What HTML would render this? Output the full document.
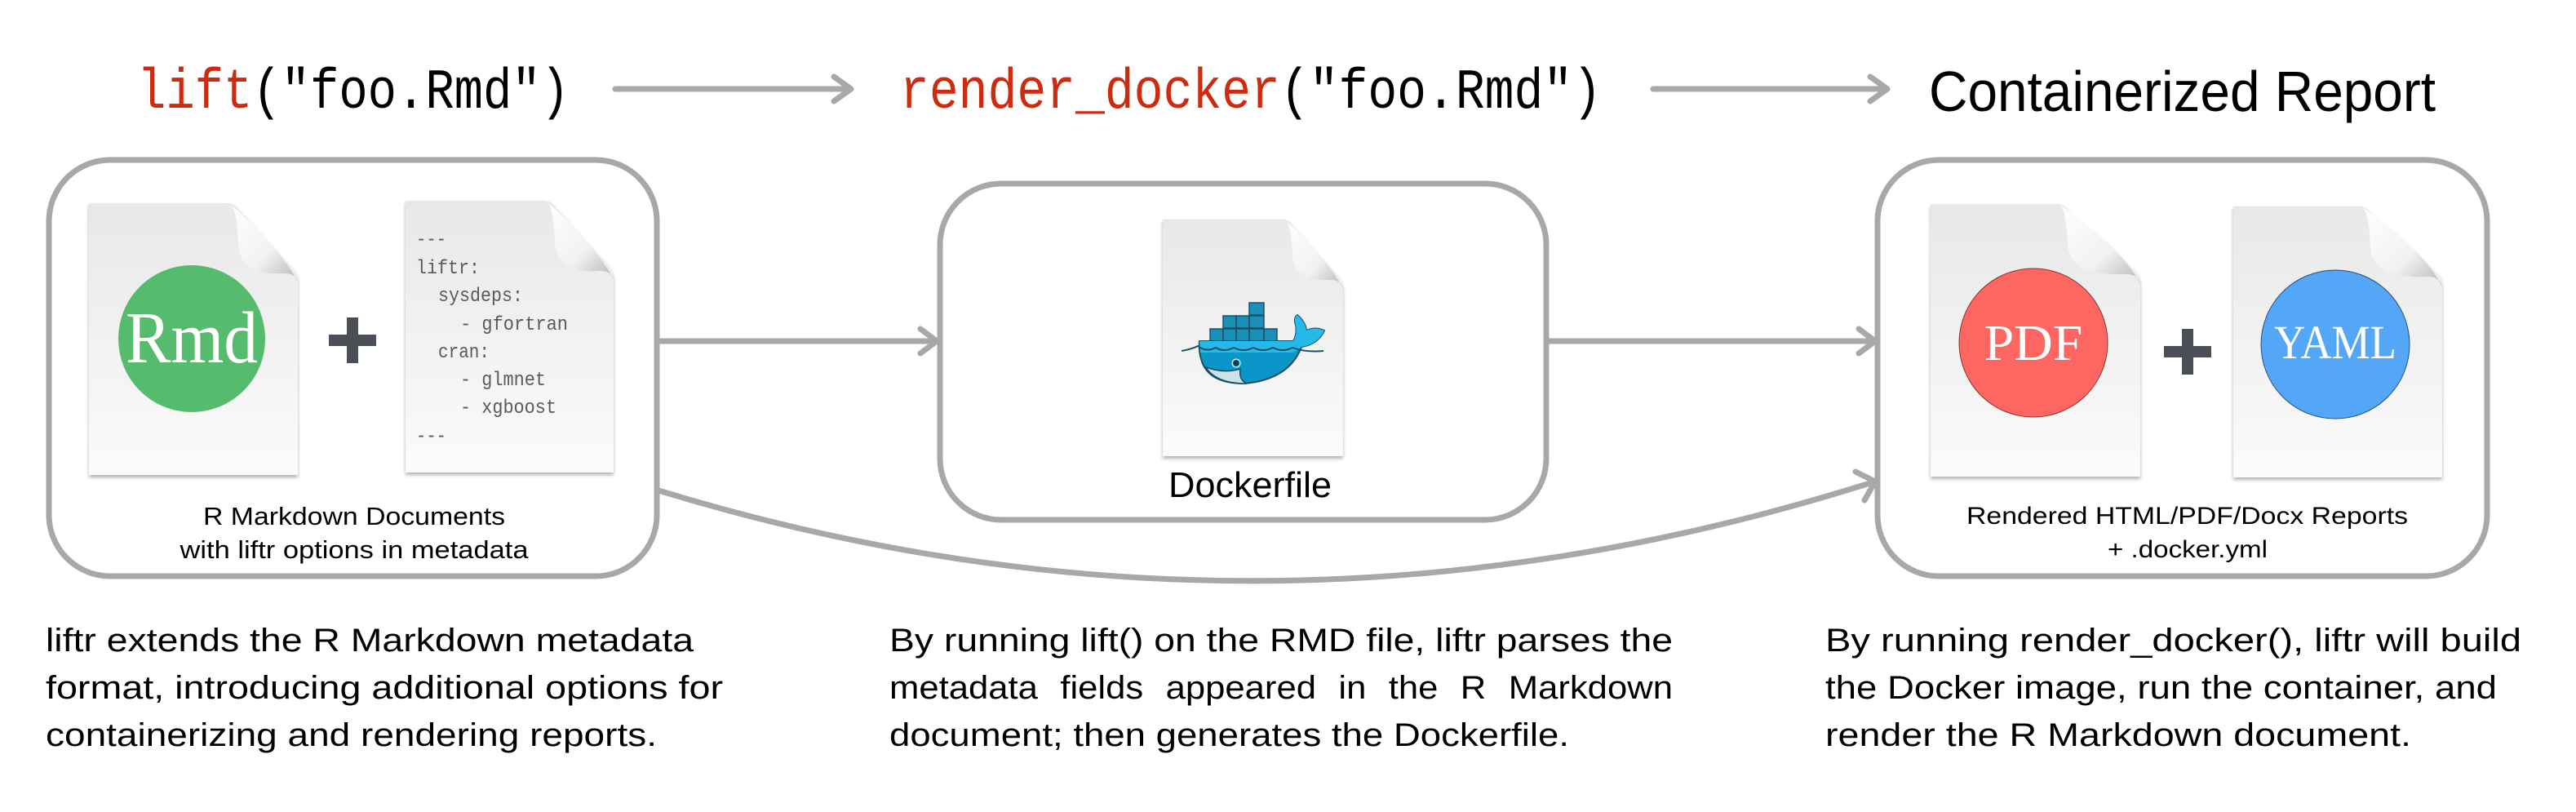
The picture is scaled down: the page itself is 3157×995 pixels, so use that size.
<!DOCTYPE html>
<html><head><meta charset="utf-8"><style>
html,body{margin:0;padding:0;background:#fff;}
svg{display:block;}
</style></head><body>
<svg width="3157" height="995" viewBox="0 0 3157 995" xmlns="http://www.w3.org/2000/svg">
<defs>
<linearGradient id="pg" x1="0" y1="0" x2="0" y2="1">
<stop offset="0" stop-color="#e8e8e8"/><stop offset="1" stop-color="#fbfbfb"/>
</linearGradient>
<linearGradient id="fold" x1="0" y1="0" x2="1" y2="1">
<stop offset="0" stop-color="#ffffff"/><stop offset="0.6" stop-color="#f2f2f2"/><stop offset="1" stop-color="#b5b5b5"/>
</linearGradient>
<filter id="sh" x="-10%" y="-10%" width="120%" height="120%">
<feDropShadow dx="0" dy="3" stdDeviation="2" flood-color="#000" flood-opacity="0.3"/>
</filter>
</defs>

<g font-family="Liberation Mono, monospace" font-size="70">
<text x="168" y="132" textLength="530" lengthAdjust="spacingAndGlyphs"><tspan fill="#cc2b10">lift</tspan><tspan fill="#000">("foo.Rmd")</tspan></text>
<text x="1103" y="132" textLength="860" lengthAdjust="spacingAndGlyphs"><tspan fill="#cc2b10">render_docker</tspan><tspan fill="#000">("foo.Rmd")</tspan></text>
</g>
<text x="2364" y="136" font-family="Liberation Sans, sans-serif" font-size="70" textLength="621" lengthAdjust="spacingAndGlyphs" fill="#000">Containerized Report</text>

<g stroke="#a6a9a8" stroke-width="7" fill="none" stroke-linecap="round" stroke-linejoin="round">
<line x1="754" y1="109" x2="1041" y2="109"/><polyline points="1022,94 1043,109 1022,124"/>
<line x1="2026" y1="109" x2="2311" y2="109"/><polyline points="2292,94 2313,109 2292,124"/>
<rect x="60" y="196" width="745" height="510" rx="75"/>
<rect x="1152" y="225" width="743" height="412" rx="75"/>
<rect x="2301" y="196" width="747" height="510" rx="75"/>
<line x1="805" y1="418" x2="1146" y2="418"/><polyline points="1128,403 1148,418 1128,433"/>
<line x1="1895" y1="418" x2="2296" y2="418"/><polyline points="2278,403 2298,418 2278,433"/>
<path d="M807,601 Q1550,828 2298,590"/><polyline points="2274,578 2298,590 2285,613"/>
</g>

<g>
<path filter="url(#sh)" d="M109,249 H279 Q287,249 292,256 L360,330 Q365,336 365,345 V582 H109 Z" fill="url(#pg)"/>
<path d="M281,249 Q290,252 292,300 Q294,338 345,335 Q362,334 365,345 Q340,300 281,249 Z" fill="url(#fold)"/>
<circle cx="235" cy="415" r="90" fill="#56bb6c"/>
<text x="235" y="444" text-anchor="middle" font-family="Liberation Serif, serif" font-size="90" fill="#fff" textLength="162" lengthAdjust="spacingAndGlyphs">Rmd</text>
<rect x="403" y="410" width="58" height="14" fill="#4a4e57"/><rect x="425" y="389" width="14" height="56" fill="#4a4e57"/>

<path filter="url(#sh)" d="M497,246 H667 Q675,246 680,253 L747,327 Q752,333 752,342 V579 H497 Z" fill="url(#pg)"/>
<path d="M669,246 Q678,249 680,297 Q682,335 732,332 Q749,331 752,342 Q727,297 669,246 Z" fill="url(#fold)"/>
<g font-family="Liberation Mono, monospace" font-size="24" fill="#5a5a5a">
<text x="510" y="300" textLength="37" lengthAdjust="spacingAndGlyphs">---</text>
<text x="510" y="335" textLength="78" lengthAdjust="spacingAndGlyphs">liftr:</text>
<text x="537" y="369" textLength="104" lengthAdjust="spacingAndGlyphs">sysdeps:</text>
<text x="564" y="404" textLength="132" lengthAdjust="spacingAndGlyphs">- gfortran</text>
<text x="537" y="438" textLength="63" lengthAdjust="spacingAndGlyphs">cran:</text>
<text x="564" y="472" textLength="105" lengthAdjust="spacingAndGlyphs">- glmnet</text>
<text x="564" y="506" textLength="118" lengthAdjust="spacingAndGlyphs">- xgboost</text>
<text x="510" y="541" textLength="37" lengthAdjust="spacingAndGlyphs">---</text>
</g>
<g font-family="Liberation Sans, sans-serif" font-size="31" fill="#000" text-anchor="middle">
<text x="434" y="643" textLength="370" lengthAdjust="spacingAndGlyphs">R Markdown Documents</text>
<text x="434" y="684" textLength="427" lengthAdjust="spacingAndGlyphs">with liftr options in metadata</text>
</g>

<path filter="url(#sh)" d="M1425,269 H1572 Q1580,269 1584,276 L1641,340 Q1646,346 1646,354 V559 H1425 Z" fill="url(#pg)"/>
<path d="M1574,269 Q1582,272 1584,313 Q1586,345 1628,343 Q1643,342 1646,354 Q1625,313 1574,269 Z" fill="url(#fold)"/>
<g stroke="#1d4f63" stroke-width="1.5" fill="#1a8fb8">
<rect x="1531" y="371" width="18" height="15"/>
<rect x="1499" y="387" width="16" height="15"/><rect x="1515" y="387" width="16" height="15"/><rect x="1531" y="387" width="18" height="15"/>
<rect x="1483" y="403" width="16" height="15"/><rect x="1499" y="403" width="16" height="15"/><rect x="1515" y="403" width="16" height="15"/><rect x="1531" y="403" width="18" height="15"/><rect x="1549" y="403" width="16" height="15"/>
</g>
<path d="M1470,418 H1585 Q1590,410 1588,398 Q1585,390 1590,386 Q1600,395 1601,405 Q1612,400 1623,405 Q1615,422 1595,425 Q1580,465 1525,470 Q1480,470 1472,440 Q1469,430 1470,418 Z" fill="#0a96c8" stroke="#1d4f63" stroke-width="2"/>
<path d="M1470,418 H1585 Q1590,410 1588,398 Q1585,390 1590,386 Q1600,395 1601,405 Q1612,400 1623,405 Q1615,422 1595,425 Q1590,430 1585,432 H1471 Z" fill="#25b9ea"/>
<path d="M1448,430 Q1460,428 1468,424 Q1478,432 1490,426 Q1500,432 1512,426 Q1524,432 1536,426 Q1548,432 1560,426 Q1572,432 1584,426 Q1600,432 1622,430" fill="none" stroke="#1d4f63" stroke-width="2"/>
<path d="M1478,450 Q1500,458 1520,452 Q1518,466 1528,470 Q1490,470 1478,450 Z" fill="#c8e3ea" stroke="#1d4f63" stroke-width="1.5"/>
<circle cx="1515" cy="445" r="3.5" fill="#1d3a46"/><circle cx="1515" cy="445" r="5" fill="none" stroke="#fff" stroke-width="1"/>
<text x="1432" y="609" font-family="Liberation Sans, sans-serif" font-size="44" textLength="200" lengthAdjust="spacingAndGlyphs" fill="#000">Dockerfile</text>

<path filter="url(#sh)" d="M2366,250 H2521 Q2529,250 2534,257 L2618,333 Q2623,339 2623,348 V584 H2366 Z" fill="url(#pg)"/>
<path d="M2523,250 Q2532,253 2534,300 Q2536,338 2603,336 Q2620,335 2623,348 Q2598,300 2523,250 Z" fill="url(#fold)"/>
<circle cx="2492" cy="420" r="91" fill="#fe6661" stroke="#8a3330" stroke-width="1"/>
<text x="2492" y="441" text-anchor="middle" font-family="Liberation Serif, serif" font-size="62" fill="#fff" textLength="121" lengthAdjust="spacingAndGlyphs">PDF</text>
<rect x="2652" y="424" width="58" height="14" fill="#4a4e57"/><rect x="2674" y="403" width="14" height="56" fill="#4a4e57"/>
<path filter="url(#sh)" d="M2737,253 H2892 Q2900,253 2905,260 L2988,336 Q2993,342 2993,351 V585 H2737 Z" fill="url(#pg)"/>
<path d="M2894,253 Q2903,256 2905,303 Q2907,341 2973,339 Q2990,338 2993,351 Q2968,303 2894,253 Z" fill="url(#fold)"/>
<circle cx="2862" cy="422" r="91" fill="#54a6f7" stroke="#2a4f7a" stroke-width="1"/>
<text x="2862" y="439" text-anchor="middle" font-family="Liberation Serif, serif" font-size="58" fill="#fff" textLength="150" lengthAdjust="spacingAndGlyphs">YAML</text>
<g font-family="Liberation Sans, sans-serif" font-size="30" fill="#000">
<text x="2410" y="642" textLength="541" lengthAdjust="spacingAndGlyphs">Rendered HTML/PDF/Docx Reports</text>
<text x="2583" y="683" textLength="196" lengthAdjust="spacingAndGlyphs">+ .docker.yml</text>
</g>
</g>

<g font-family="Liberation Sans, sans-serif" font-size="40" fill="#000">
<text x="56" y="798" textLength="794" lengthAdjust="spacingAndGlyphs">liftr extends the R Markdown metadata</text>
<text x="56" y="856" textLength="830" lengthAdjust="spacingAndGlyphs">format, introducing additional options for</text>
<text x="56" y="914" textLength="749" lengthAdjust="spacingAndGlyphs">containerizing and rendering reports.</text>
<text x="1090" y="798" textLength="960" lengthAdjust="spacingAndGlyphs">By running lift() on the RMD file, liftr parses the</text>
<text x="1090" y="856" textLength="960" lengthAdjust="spacingAndGlyphs" word-spacing="14">metadata fields appeared in the R Markdown</text>
<text x="1090" y="914" textLength="833" lengthAdjust="spacingAndGlyphs">document; then generates the Dockerfile.</text>
<text x="2237" y="798" textLength="853" lengthAdjust="spacingAndGlyphs">By running render_docker(), liftr will build</text>
<text x="2237" y="856" textLength="823" lengthAdjust="spacingAndGlyphs">the Docker image, run the container, and</text>
<text x="2237" y="914" textLength="718" lengthAdjust="spacingAndGlyphs">render the R Markdown document.</text>
</g>
</svg>
</body></html>
